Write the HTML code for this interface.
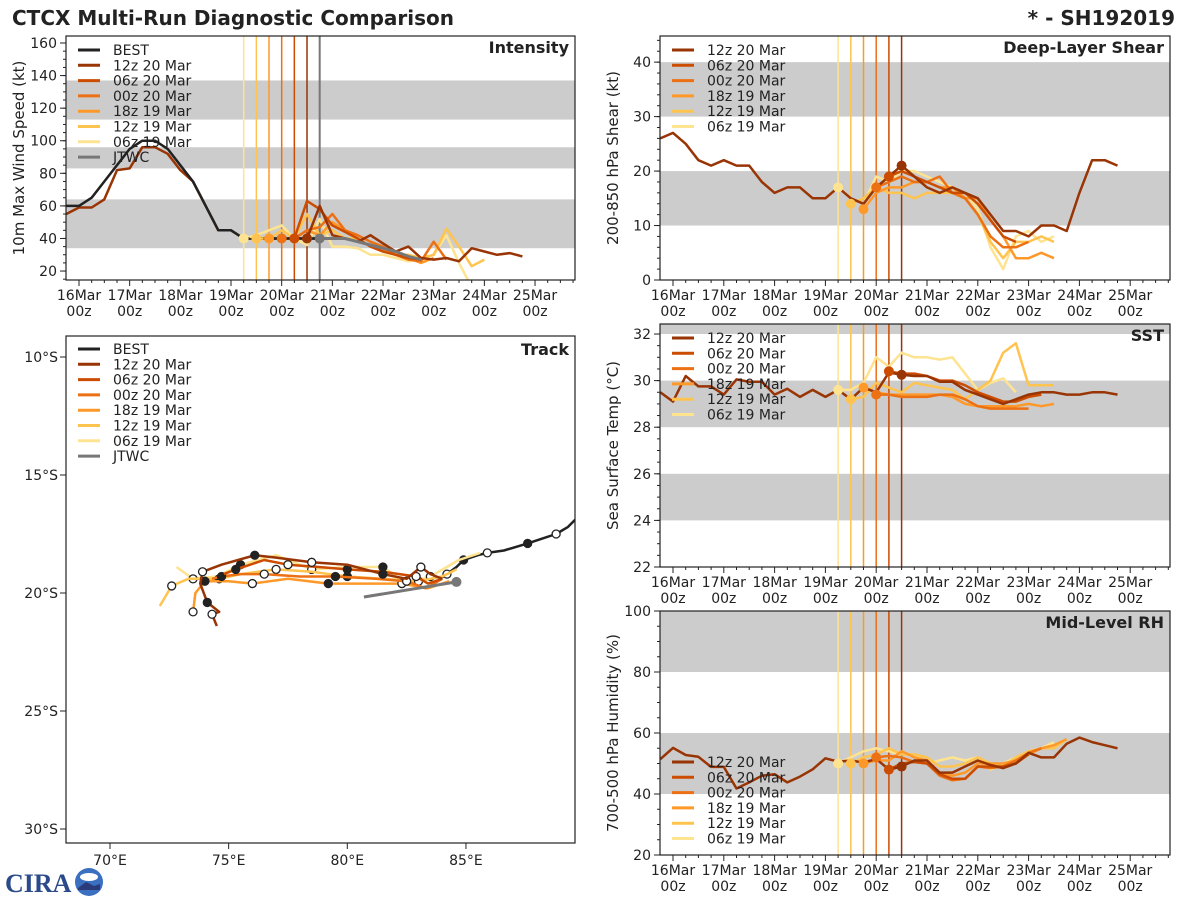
<!DOCTYPE html>
<html><head><meta charset="utf-8"><style>
body{margin:0;background:#fff;}
svg{font-family:"DejaVu Sans","Liberation Sans",sans-serif;}
</style></head><body>
<svg id="s" width="1200" height="900" xmlns="http://www.w3.org/2000/svg">
<text x="12" y="25" font-size="20" font-weight="bold" fill="#222">CTCX Multi-Run Diagnostic Comparison</text>
<text x="1175" y="25" font-size="20" font-weight="bold" fill="#222" text-anchor="end">* - SH192019</text>
<g>
<text x="5" y="892" font-size="26" font-weight="bold" fill="#2a4a8a" font-family="Liberation Serif,serif">CIRA</text>
<circle cx="89" cy="882" r="14" fill="#3b6fc0"/><ellipse cx="89" cy="877" rx="9" ry="4" fill="#fff"/><path d="M78 888 L86 882 L94 886 L100 884 L100 890 L78 890Z" fill="#2a3a7a"/>
</g>
</svg>
<script>
const svg=document.getElementById('s');
const NS='http://www.w3.org/2000/svg';
function mk(tag,attrs,parent){const e=document.createElementNS(NS,tag);for(const k in attrs)e.setAttribute(k,attrs[k]);(parent||svg).appendChild(e);return e;}

// ---- data ----
const runNames=["12z 20 Mar","06z 20 Mar","00z 20 Mar","18z 19 Mar","12z 19 Mar","06z 19 Mar"];
const runColors=["#993404","#cc4c02","#ec7014","#fe9929","#fec44f","#fee391"];
const runStartHours=[108,102,96,90,84,78];
const dayLabels=["16Mar","17Mar","18Mar","19Mar","20Mar","21Mar","22Mar","23Mar","24Mar","25Mar"];

// Intensity (kt), history from t=-6h
const bestInt=[60,60,65,75,85,95,100,100,95,85,75,60,45,45,40,40,40,40,40,40,40,40];
const histInt=[55,59,59,64,82,83,96,96,92,82,75,60,45,45,40,40,40,40,40,40,40,40];
const intRuns=[
 [40,60,42,40,38,42,37,32,35,28,27,28,26,34,32,30,31,29],
 [40,63,58,48,44,40,35,32,30,28,27],
 [40,40,45,47,55,45,42,38,35,30,27,26,38,27],
 [40,40,40,45,42,50,45,40,35,33,30,28,25,28],
 [40,40,45,40,55,42,45,40,40,35,32,30,30,28,30,46,35,23,27],
 [40,42,45,48,40,36,52,35,35,34,30,30,28,26,27,30,42,25,10]];
const jtwcStart=114;
const jtwcInt=[40,40,40,38,36,34,32,29,27];
const intTicks=[20,40,60,80,100,120,140,160];

// Shear (kt)
const histShear=[26,27,25,22,21,22,21,21,18,16,17,17,15,15,17];
const shearRuns=[
 [17,15,14,17,19,21,19,17,16,17,16,15,12,9,9,8,10,10,9,16,22,22,21],
 [19,20,19,18,17,16,16,14,11,8,7],
 [17,18,19,18,18,19,16,15,12,8,6,6,7],
 [13,16,17,17,18,18,17,17,15,15,11,8,4,4,5,4],
 [14,15,17,16,16,15,16,16,16,15,12,7,4,7,7,8,7],
 [17,15,14,19,18,20,20,19,18,17,16,13,6,2,8,9,7,8]];
const shearStarts=[78,102,96,90,84,78];
const shearTicks=[0,10,20,30,40];

// SST (C)
const histSST=[29.5,29.1,30.2,29.75,29.75,29.4,30.05,29.95,29.95,29.4,29.65,29.3,29.6,29.3,29.6];
const sstRuns=[
 [29.6,29.2,29.7,29.5,30.35,30.25,30.2,30.2,29.95,29.95,29.6,29.4,29.2,29.0,29.2,29.4,29.5,29.5,29.4,29.4,29.5,29.5,29.4],
 [30.4,30.3,30.3,30.2,30.0,30.0,29.8,29.5,29.3,29.1,29.1,29.3,29.4],
 [29.4,29.4,29.3,29.3,29.3,29.4,29.4,29.2,28.9,28.8,28.8,28.8,28.8],
 [29.7,29.5,29.4,29.4,29.4,29.4,29.4,29.3,29.0,28.9,28.9,28.9,28.9,29.0,28.9,29.0],
 [29.2,29.3,29.9,29.7,29.5,29.9,29.8,29.7,29.6,29.2,29.6,30.0,31.2,31.6,29.8,29.8,29.8],
 [29.6,29.6,29.9,31.0,30.6,31.2,31.0,31.0,30.9,31.0,30.3,29.6,29.9,30.1,29.5]];
const sstTicks=[22,24,26,28,30,32];

// RH (%)
const histRH=[51.4,55.1,52.8,52.2,48.9,48.9,41.8,43.8,46,46.5,43.8,45.7,48.1,51.7,50.6];
const rhRuns=[
 [50.6,51,50.3,51.5,48,49,51,51,47,47,49,51,49.5,48.5,50,53.5,52,52,56.5,58.5,57,56,55],
 [48,50,50.5,50,46.5,45,45,49,49,49,50,53],
 [52,52.5,52,50.5,50,46,44.5,45,49,48.5,49,51,53.5,55],
 [50,51,51,54,52,51,47,46,47,50,50,50,51,53,55,56,58],
 [50,52,53,55,53,53,52,49,49,50,52,50,49,52,54,55,55,58],
 [50,52,54,55,54,53,53,50,51,52,51,52,48,50,52,54,55,57]];
const rhTicks=[20,40,60,80,100];

// Track (lon E, lat S)
const bestLon=[89.6,89.3,88.8,88.2,87.6,86.6,85.9,85.5,84.9,84.6,84.2,83.9];
const bestLat=[16.9,17.2,17.5,17.7,17.9,18.2,18.3,18.4,18.6,18.9,19.2,19.4];
const trackLon=[
 [84.0,83.5,83.1,82.5,81.5,80.0,78.5,77.0,76.1,74.7,73.9,73.8,74.1,74.6,74.3,74.5],
 [84.0,83.4,82.9,81.5,80.0,78.8,77.5,76.5,75.3,74.8],
 [84.0,83.3,82.5,81.2,79.5,78.0,76.5,75.5,74.7,74.3],
 [84.3,83.4,82.3,80.5,79.2,77.5,76.0,75.0,74.0,73.6,73.5],
 [84.6,84.0,83.0,81.5,80.0,78.5,77.0,75.5,74.6,73.3,72.6,72.1],
 [85.6,84.7,83.5,82.5,81.5,80.0,78.5,77.0,75.5,74.5,73.5,72.8]];
const trackLat=[
 [19.4,19.2,18.9,19.4,19.2,18.8,18.7,18.5,18.4,18.8,19.1,19.6,20.4,20.8,20.9,21.4],
 [19.4,19.6,19.3,19.1,19.0,18.9,18.8,18.6,19.0,19.2],
 [19.4,19.8,19.5,19.4,19.3,19.3,19.2,19.2,19.3,19.4],
 [19.5,19.8,19.6,19.6,19.6,19.4,19.6,19.5,19.5,20.0,20.8],
 [19.0,19.3,19.5,19.4,19.3,19.1,19.0,19.2,19.4,19.4,19.7,20.55],
 [18.3,18.6,19.3,19.6,18.9,18.9,19.0,18.4,18.8,19.3,19.4,18.9]];
const jtwcLon=[80.7,84.6];
const jtwcLat=[20.17,19.53];
const lonTicks=[70,75,80,85];
const latTicks=[10,15,20,25,30];

// ---- time panel helper ----
function timePanel(name,x0,y0,w,h,t0px,pxDay,vmin,vmax,bands,ticks,minorStep,ylabel,title){
  const g=mk('g',{});
  
  
  const X=t=>t0px+t/24*pxDay;
  const Y=v=>y0+h-(v-vmin)/(vmax-vmin)*h;
  const clip=mk('clipPath',{id:'c'+name},g);mk('rect',{x:x0,y:y0,width:w,height:h},clip);
  const pg=mk('g',{'clip-path':'url(#c'+name+')'},g);
  bands.forEach(b=>{const r=mk('rect',{x:x0,y:Y(b[1]),width:w,height:Y(b[0])-Y(b[1]),fill:'#cccccc'},pg);
    });
  for(let d=0;d<10;d++){
    const x=X(d*24);
    mk('line',{x1:x,x2:x,y1:y0+h,y2:y0+h+6,stroke:'#222'},g);
    for(let k=1;k<4;k++){const xm=X(d*24+k*6);if(xm<x0+w)mk('line',{x1:xm,x2:xm,y1:y0+h,y2:y0+h+3,stroke:'#222'},g);}
    const t=mk('text',{x:x,y:y0+h+20,'font-size':14,'text-anchor':'middle',fill:'#222'},g);t.textContent=dayLabels[d];
    
    const t2=mk('text',{x:x,y:y0+h+36,'font-size':14,'text-anchor':'middle',fill:'#222'},g);t2.textContent='00z';
    
  }
  ticks.forEach(v=>{const y=Y(v);mk('line',{x1:x0-6,x2:x0,y1:y,y2:y,stroke:'#222'},g);
    const t=mk('text',{x:x0-9,y:y+5,'font-size':14,'text-anchor':'end',fill:'#222'},g);t.textContent=v;
    });
  for(let v=Math.ceil(vmin/minorStep)*minorStep;v<=vmax;v+=minorStep){mk('line',{x1:x0-3,x2:x0,y1:Y(v),y2:Y(v),stroke:'#222'},g);}
  const yl=mk('text',{x:0,y:0,'font-size':15,'text-anchor':'middle',fill:'#222',transform:`translate(${x0-42},${y0+h/2}) rotate(-90)`},g);
  yl.textContent=ylabel;
  const tt=mk('text',{x:x0+w-6,y:y0+17,'font-size':16,'font-weight':'bold','text-anchor':'end',fill:'#222'},g);
  tt.textContent=title;
  return {g,pg,X,Y,x0,y0,w,h};
}
function line(P,pg,start,vals,color,width,name){
  const pts=vals.map((v,i)=>P.X(start+i*6).toFixed(1)+','+P.Y(v).toFixed(1)).join(' ');
  const l=mk('polyline',{points:pts,fill:'none',stroke:color,'stroke-width':width,'stroke-linejoin':'round'},pg);
  
}
function vlines(P,withJtwc){
  runStartHours.forEach((t,i)=>{const x=P.X(t);const l=mk('line',{x1:x,x2:x,y1:P.y0,y2:P.y0+P.h,stroke:runColors[i],'stroke-width':1.5},P.pg);
    });
  if(withJtwc){const x=P.X(jtwcStart);const l=mk('line',{x1:x,x2:x,y1:P.y0,y2:P.y0+P.h,stroke:'#777','stroke-width':2},P.pg);
    }
}
function dot(P,t,v,c){const d=mk('circle',{cx:P.X(t),cy:P.Y(v),r:5,fill:c},P.pg);}
function legend(P,x,y,items){
  const g=mk('g',{},P.g);
  items.forEach((it,i)=>{const yy=y+i*15.3;
    mk('line',{x1:x,x2:x+22,y1:yy,y2:yy,stroke:it[1],'stroke-width':3},g);
    const t=mk('text',{x:x+35,y:yy+5,'font-size':14,fill:'#222'},g);t.textContent=it[0];
    });
}
function frame(P){mk('rect',{x:P.x0,y:P.y0,width:P.w,height:P.h,fill:'none',stroke:'#222','stroke-width':1.2},P.g);}
function runPanel(P,runs,starts,hist,histStart){
  vlines(P,false);
  line(P,P.pg,histStart,hist,runColors[0],2.5,'history-line');
  for(let i=5;i>=0;i--){line(P,P.pg,starts[i],runs[i],runColors[i],2.5,'run-line-'+i);}
  for(let i=5;i>=0;i--){const s=runStartHours[i];
    const idx=(s-starts[i])/6; dot(P,s,runs[i][idx],runColors[i]);}
}

// Intensity
const PI=timePanel('intensity',66,36,509,244,79,50.67,14.5,164.3,[[34,64],[83,96],[113,137]],intTicks,5,'10m Max Wind Speed (kt)','Intensity');
vlines(PI,true);
line(PI,PI.pg,-6,histInt,runColors[0],2.5,'history-line');
line(PI,PI.pg,-6,bestInt,'#222',2.5,'best-line');
for(let i=5;i>=0;i--)line(PI,PI.pg,runStartHours[i],intRuns[i],runColors[i],2.5,'run-line-'+i);
line(PI,PI.pg,jtwcStart,jtwcInt,'#777',3,'jtwc-line');
mk('line',{x1:PI.X(78),x2:PI.X(114),y1:PI.Y(40),y2:PI.Y(40),stroke:'#222','stroke-width':2.5,'stroke-dasharray':'6,4'},PI.pg);
for(let i=5;i>=0;i--)dot(PI,runStartHours[i],intRuns[i][0],runColors[i]);
dot(PI,jtwcStart,jtwcInt[0],'#777');
frame(PI);
legend(PI,78,50,[["BEST","#222"]].concat(runNames.map((n,i)=>[n,runColors[i]])).concat([["JTWC","#777"]]));

// Shear
const PS=timePanel('shear',660,36,510,244,673,50.8,0,44.8,[[10,20],[30,40]],shearTicks,2,'200-850 hPa Shear (kt)','Deep-Layer Shear');
runPanel(PS,shearRuns,shearStarts,histShear,-6);frame(PS);
legend(PS,672,50,runNames.map((n,i)=>[n,runColors[i]]));

// SST
const PT=timePanel('sst',660,324,510,243,673,50.8,22,32.43,[[24,26],[28,30],[32,33]],sstTicks,0.5,'Sea Surface Temp (°C)','SST');
runPanel(PT,sstRuns,[78,102,96,90,84,78],histSST,-6);frame(PT);
legend(PT,672,338,runNames.map((n,i)=>[n,runColors[i]]));

// RH
const PR=timePanel('rh',660,611,510,244,673,50.8,20,100,[[40,60],[80,100]],rhTicks,5,'700-500 hPa Humidity (%)','Mid-Level RH');
runPanel(PR,rhRuns,[78,102,96,90,84,78],histRH,-6);frame(PR);
legend(PR,672,762,runNames.map((n,i)=>[n,runColors[i]]));

// Track
(function(){
  const x0=66,y0=336,w=509,h=507;
  const g=mk('g',{});
  const LX=lon=>110+(lon-70)*23.73;
  const LY=lat=>357+(lat-10)*23.6;
  const clip=mk('clipPath',{id:'ctrack'},g);mk('rect',{x:x0,y:y0,width:w,height:h},clip);
  const pg=mk('g',{'clip-path':'url(#ctrack)'},g);
  lonTicks.forEach(v=>{const x=LX(v);mk('line',{x1:x,x2:x,y1:y0+h,y2:y0+h+6,stroke:'#222'},g);
    const t=mk('text',{x:x,y:y0+h+22,'font-size':14,'text-anchor':'middle',fill:'#222'},g);t.textContent=v+'°E';
    });
  latTicks.forEach(v=>{const y=LY(v);mk('line',{x1:x0-6,x2:x0,y1:y,y2:y,stroke:'#222'},g);
    const t=mk('text',{x:x0-8,y:y+5,'font-size':14,'text-anchor':'end',fill:'#222'},g);t.textContent=v+'°S';
    });
  function tl(lons,lats,c,wd,name,marks){
    const pts=lons.map((v,i)=>LX(v).toFixed(1)+','+LY(lats[i]).toFixed(1)).join(' ');
    const l=mk('polyline',{points:pts,fill:'none',stroke:c,'stroke-width':wd,'stroke-linejoin':'round'},pg);
    
    if(marks)lons.forEach((v,i)=>{if(i>0&&i%2==0){const m=mk('circle',{cx:LX(v),cy:LY(lats[i]),r:4,fill:(i%4==0)?'#222':'#fff',stroke:'#222','stroke-width':1.3},pg);
      }});
  }
  tl(bestLon,bestLat,'#222',2.5,'best-track',true);
  for(let i=5;i>=0;i--)tl(trackLon[i],trackLat[i],runColors[i],2.5,'track-run-'+i,true);
  tl(jtwcLon,jtwcLat,'#777',3,'jtwc-track',false);
  const jd=mk('circle',{cx:LX(jtwcLon[1]),cy:LY(jtwcLat[1]),r:5,fill:'#777'},pg);
  mk('rect',{x:x0,y:y0,width:w,height:h,fill:'none',stroke:'#222','stroke-width':1.2},g);
  const tt=mk('text',{x:x0+w-6,y:y0+19,'font-size':16,'font-weight':'bold','text-anchor':'end',fill:'#222'},g);tt.textContent='Track';
  
  legend({g:g},78,349,[["BEST","#222"]].concat(runNames.map((n,i)=>[n,runColors[i]])).concat([["JTWC","#777"]]));
})();
</script>
</body></html>
